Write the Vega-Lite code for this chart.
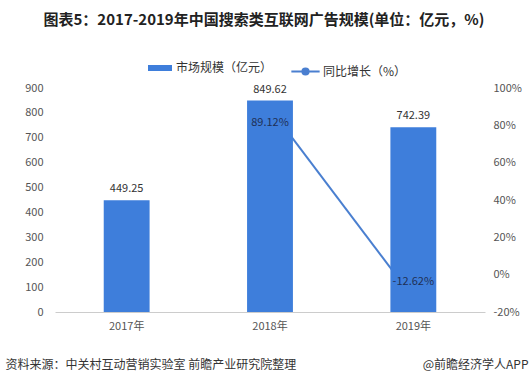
{
  "$schema": "https://vega.github.io/schema/vega-lite/v6.json",
  "width": 430,
  "height": 224,
  "autosize": {"type": "none"},
  "padding": {"left": 55, "top": 88, "right": 44, "bottom": 74},
  "background": "white",
  "config": {
    "font": "Noto Sans CJK SC",
    "view": {"stroke": null}
  },
  "title": {
    "text": "图表5：2017-2019年中国搜索类互联网广告规模(单位：亿元，%)",
    "fontSize": 15,
    "fontWeight": "bold",
    "color": "#222222",
    "anchor": "middle",
    "dx": -6,
    "offset": 28,
    "font": "Noto Sans CJK SC"
  },
  "data": {
    "values": [
      {"year": "2017年", "size": 449.25, "growth": null, "s1": "市场规模（亿元）", "s2": "同比增长（%）"},
      {"year": "2018年", "size": 849.62, "growth": 89.12, "s1": "市场规模（亿元）", "s2": "同比增长（%）"},
      {"year": "2019年", "size": 742.39, "growth": -12.62, "s1": "市场规模（亿元）", "s2": "同比增长（%）"}
    ]
  },
  "encoding": {
    "x": {
      "field": "year",
      "type": "nominal",
      "sort": ["2017年", "2018年", "2019年"],
      "scale": {"domain": ["2017年", "2018年", "2019年"], "paddingInner": 0.68, "paddingOuter": 0.34},
      "axis": {
        "labelAngle": 0,
        "labelFontSize": 11,
        "labelColor": "#555555",
        "labelPadding": 8,
        "domainColor": "#cccccc",
        "ticks": false,
        "title": "资料来源：中关村互动营销实验室 前瞻产业研究院整理",
        "titleFontSize": 12,
        "titleFontWeight": "normal",
        "titleColor": "#333333",
        "titleAnchor": "start",
        "titleAlign": "left",
        "titleX": -50,
        "titleY": 52,
        "titleBaseline": "middle"
      }
    }
  },
  "layer": [
    {
      "transform": [
        {"filter": "datum.growth != null"}
      ],
      "encoding": {
        "y": {
          "field": "growth",
          "type": "quantitative",
          "scale": {"domain": [-20, 100], "nice": false, "zero": false},
          "axis": {
            "orient": "right",
            "values": [-20, 0, 20, 40, 60, 80, 100],
            "labelExpr": "datum.value + '%'",
            "labelFontSize": 11,
            "labelColor": "#555555",
            "labelPadding": 8,
            "domain": false,
            "ticks": false,
            "grid": false,
            "title": "@前瞻经济学人APP",
            "titleAngle": 0,
            "titleFontSize": 12,
            "titleFontWeight": "normal",
            "titleColor": "#333333",
            "titleAlign": "right",
            "titleBaseline": "middle",
            "titleX": 43,
            "titleY": 276
          }
        }
      },
      "layer": [
        {
          "mark": {"type": "line", "strokeWidth": 2, "point": {"filled": true, "size": 30, "color": "#4a7fd0"}, "color": "#4a7fd0"},
          "encoding": {
            "stroke": {
              "field": "s2",
              "type": "nominal",
              "scale": {"range": ["#4a7fd0"]},
              "legend": {
                "orient": "none",
                "legendX": 235,
                "legendY": -32,
                "title": null,
                "labelFontSize": 12,
                "labelColor": "#333333",
                "symbolType": "M-1,0H1M0.22,0A0.22,0.22 0 1 1 -0.22,0A0.22,0.22 0 1 1 0.22,0Z",
                "symbolSize": 800,
                "symbolStrokeWidth": 2,
                "symbolFillColor": "#4a7fd0",
                "symbolStrokeColor": "#4a7fd0",
                "labelOffset": 2
              }
            }
          }
        }
      ]
    },
    {
      "encoding": {
        "y": {
          "field": "size",
          "type": "quantitative",
          "scale": {"domain": [0, 900], "nice": false},
          "axis": {
            "orient": "left",
            "values": [0, 100, 200, 300, 400, 500, 600, 700, 800, 900],
            "labelFontSize": 11,
            "labelColor": "#555555",
            "labelPadding": 12,
            "domain": false,
            "ticks": false,
            "grid": false,
            "title": null
          }
        }
      },
      "layer": [
        {
          "mark": {"type": "bar"},
          "encoding": {
            "fill": {
              "field": "s1",
              "type": "nominal",
              "scale": {"range": ["#3e7edb"]},
              "legend": {
                "orient": "none",
                "legendX": 93,
                "legendY": -32,
                "title": null,
                "labelFontSize": 12,
                "labelColor": "#333333",
                "symbolType": "M-1,-0.25H1V0.25H-1Z",
                "symbolSize": 576,
                "symbolStrokeWidth": 0,
                "labelOffset": 4
              }
            }
          }
        },
        {
          "mark": {"type": "text", "baseline": "bottom", "dy": -6, "fontSize": 11, "color": "#333333"},
          "encoding": {
            "text": {"field": "size", "type": "quantitative", "format": ".2f"}
          }
        }
      ]
    },
    {
      "transform": [
        {"filter": "datum.growth != null"},
        {"calculate": "replace(format(datum.growth, '.2f'), '\u2212', '-') + '%'", "as": "glabel"}
      ],
      "encoding": {
        "y": {"field": "growth", "type": "quantitative", "scale": {"domain": [-20, 100], "nice": false, "zero": false}, "axis": null}
      },
      "layer": [
        {
          "transform": [{"filter": "datum.growth > 0"}],
          "mark": {"type": "text", "baseline": "middle", "dy": 15, "fontSize": 11, "color": "#1f3056"},
          "encoding": {"text": {"field": "glabel", "type": "nominal"}}
        },
        {
          "transform": [{"filter": "datum.growth < 0"}],
          "mark": {"type": "text", "baseline": "middle", "dy": -16, "fontSize": 11, "color": "#1f3056"},
          "encoding": {"text": {"field": "glabel", "type": "nominal"}}
        }
      ]
    }
  ],
  "resolve": {"scale": {"y": "independent"}, "legend": {"fill": "independent", "stroke": "independent"}}
}
